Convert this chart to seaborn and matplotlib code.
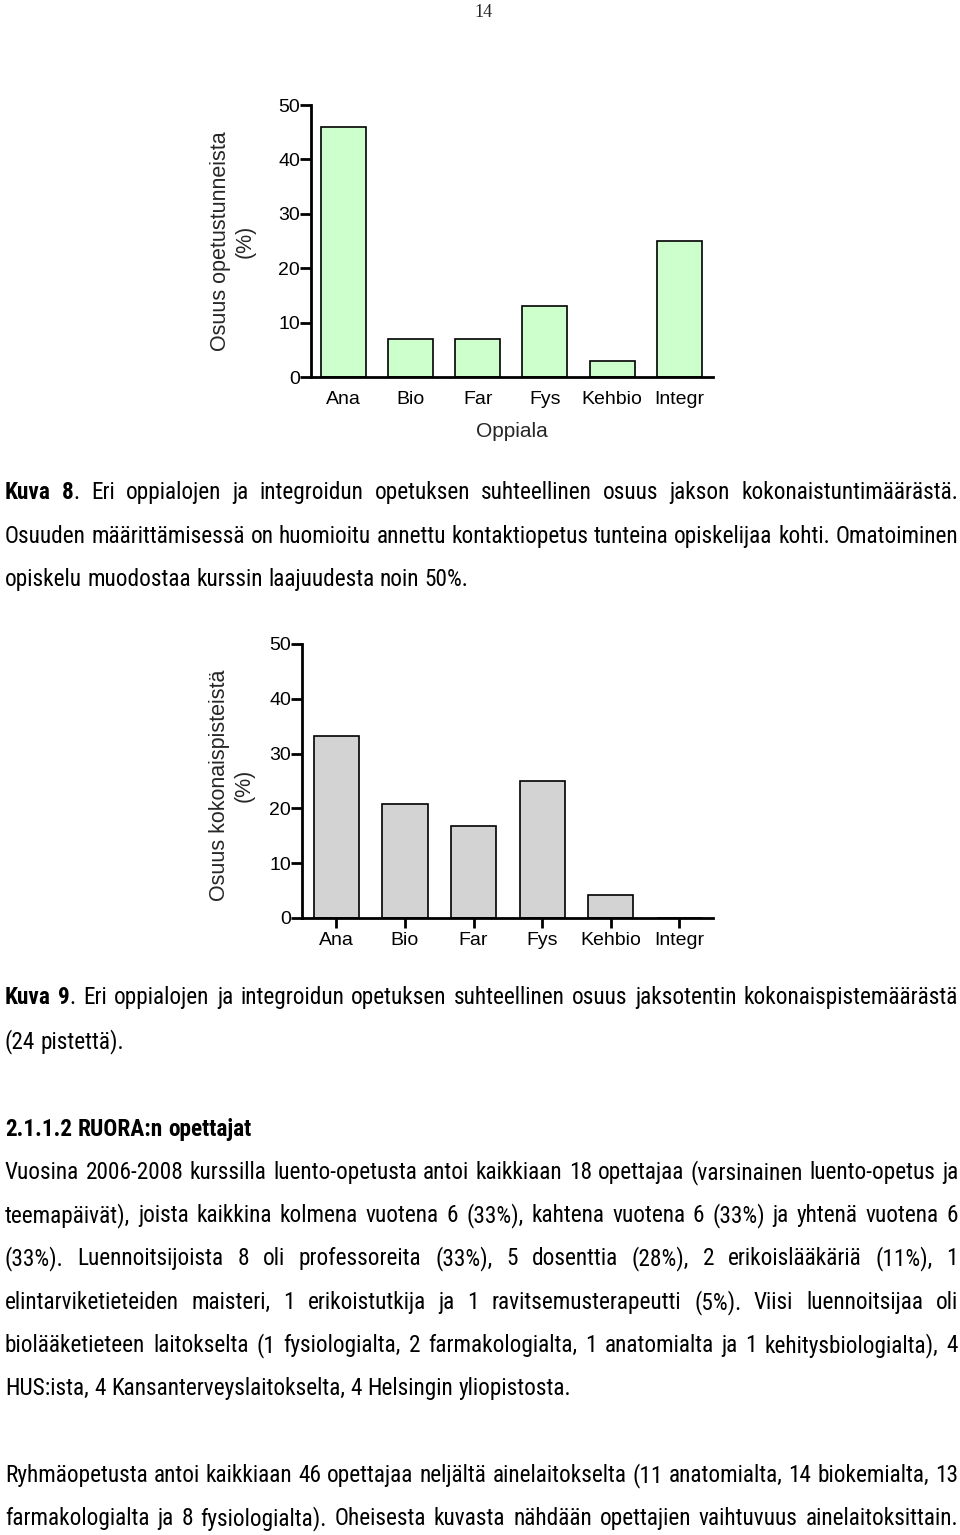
import re
import os
import matplotlib
matplotlib.use("Agg")
import matplotlib.pyplot as plt
import seaborn as sns
import pandas as pd
from matplotlib import font_manager
from matplotlib.font_manager import FontProperties

# ---------------- data ----------------
categories = ["Ana", "Bio", "Far", "Fys", "Kehbio", "Integr"]
hours_share = [46, 7, 7, 13, 3, 25]          # Kuva 8
points_share = [33.3, 20.8, 16.7, 25, 4.2, 0]  # Kuva 9
y_ticks = [0, 10, 20, 30, 40, 50]

W, H = 960, 1535
sns.set_theme(style="ticks")

CHART_FONT = ["Liberation Sans", "DejaVu Sans"]
plt.rcParams["font.family"] = CHART_FONT


# ---------- find a narrow / condensed body font (Arial Narrow look) ----------
def _wnum(w):
    if isinstance(w, (int, float)):
        return int(w)
    return font_manager.weight_dict.get(str(w).lower(), 400)


PREFS = ["liberationsansnarrow", "arialnarrow", "arial narrow", "liberation sans narrow",
         "robotocondensed", "roboto condensed", "dejavusanscondensed",
         "notosans-condensed", "notosanscondensed", "opensans-condensed", "opensans_condensed",
         "opensanscondensed", "notosans-semicondensed", "lato"]


def find_body_font(bold):
    best = None
    for f in font_manager.fontManager.ttflist:
        key = (os.path.basename(f.fname) + " " + f.name).lower().replace(" ", "")
        if f.style != "normal":
            continue
        wn = _wnum(f.weight)
        if bold and not (650 <= wn <= 750):
            continue
        if not bold and not (350 <= wn <= 450):
            continue
        if "extracondensed" in key or "italic" in key or "oblique" in key:
            continue
        for rank, p in enumerate(PREFS):
            p2 = p.replace(" ", "")
            if p2 in key:
                if p2 == "notosans-condensed" and "semicondensed" in key:
                    continue
                if p2 == "lato":
                    continue
                if best is None or rank < best[0]:
                    best = (rank, f.fname)
                break
    return best[1] if best else None


reg_path = find_body_font(False)
bold_path = find_body_font(True)

fig = plt.figure(figsize=(W / 100, H / 100), dpi=100)
fig.patch.set_facecolor("white")
renderer = fig.canvas.get_renderer()


def body_fp(weight, size):
    path = bold_path if weight == "bold" else reg_path
    if path:
        return FontProperties(fname=path, size=size)
    return FontProperties(family=["Liberation Sans", "DejaVu Sans"], weight=weight, size=size)


def axes_px(left, right, top, bottom):
    return fig.add_axes([left / W, 1 - bottom / H, (right - left) / W, (bottom - top) / H])


def style_axes(ax, xticks_visible):
    for s in ["top", "right"]:
        ax.spines[s].set_visible(False)
    for s in ["left", "bottom"]:
        ax.spines[s].set_linewidth(2.0)
        ax.spines[s].set_color("black")
    ax.set_ylim(0, 50)
    ax.set_yticks(y_ticks)
    ax.tick_params(axis="y", length=8, width=2.0, pad=0, labelsize=14, colors="black")
    if xticks_visible:
        ax.tick_params(axis="x", length=7, width=2.0, pad=3, labelsize=14, colors="black")
    else:
        ax.tick_params(axis="x", length=0, pad=10, labelsize=14, colors="black")
    ax.set_facecolor("white")
    ax.grid(False)


# ---------------- Chart 1 ----------------
ax1 = axes_px(311, 713, 105, 377)
df1 = pd.DataFrame({"Oppiala": categories, "Osuus": hours_share})
sns.barplot(data=df1, x="Oppiala", y="Osuus", ax=ax1, color="#ccffcc",
            saturation=1, width=0.67, edgecolor="black", linewidth=1.2)
style_axes(ax1, False)
ax1.set_xlim(-0.48, 5.5)
ax1.set_xlabel("Oppiala", fontsize=15, labelpad=10)
ax1.set_ylabel("Osuus opetustunneista\n(%)", fontsize=15.5, linespacing=1.25)
ax1.yaxis.set_label_coords((256 - 311) / 402, 0.5)

# ---------------- Chart 2 ----------------
ax2 = axes_px(302, 713, 644, 918)
df2 = pd.DataFrame({"Oppiala": categories, "Osuus": points_share})
sns.barplot(data=df2, x="Oppiala", y="Osuus", ax=ax2, color="#d3d3d3",
            saturation=1, width=0.66, edgecolor="black", linewidth=1.2)
style_axes(ax2, True)
ax2.set_xlim(-0.50, 5.49)
ax2.set_xlabel("")
ax2.set_ylabel("Osuus kokonaispisteistä\n(%)", fontsize=15.5, linespacing=1.25)
ax2.yaxis.set_label_coords((255 - 302) / 411, (918 - 785) / 274)

# ---------------- page text ----------------
fig.text(483 / W, 1 - 17 / H, "14", ha="center", va="baseline",
         fontsize=13, family=["Liberation Serif", "DejaVu Serif"])

LEFT, RIGHT = 5, 958


def text_width(s, weight, size):
    t = fig.text(0, 0, s, fontproperties=body_fp(weight, size))
    w = t.get_window_extent(renderer).width
    t.remove()
    return w


# calibrate size so that a free (unjustified) line has the reference width
_ref_line = "HUS:ista, 4 Kansanterveyslaitokselta, 4 Helsingin yliopistosta."
_w16 = text_width(_ref_line, "normal", 16)
BODY_SIZE = 16 * 567 / _w16
BODY_SIZE = max(12.5, min(17.5, (BODY_SIZE + 16) / 2 if reg_path is None else BODY_SIZE))

space_w = text_width("a a", "normal", BODY_SIZE) - text_width("aa", "normal", BODY_SIZE)


def parse_word(word):
    segs = []
    for m in re.finditer(r"\{([^}]*)\}|([^{}]+)", word):
        if m.group(1) is not None:
            segs.append((m.group(1), "bold"))
        else:
            segs.append((m.group(2), "normal"))
    return segs


def draw_line(line, baseline, justify):
    words = [parse_word(w) for w in line.split(" ")]
    widths = [[text_width(s, wt, BODY_SIZE) for s, wt in segs] for segs in words]
    total = sum(sum(ws) for ws in widths)
    gaps = len(words) - 1
    if justify and gaps > 0:
        gap = max((RIGHT - LEFT - total) / gaps, space_w * 0.6)
    else:
        gap = space_w
    x = LEFT
    for segs, ws in zip(words, widths):
        for (s, wt), w in zip(segs, ws):
            fig.text(x / W, 1 - baseline / H, s, fontproperties=body_fp(wt, BODY_SIZE),
                     ha="left", va="baseline", color="black")
            x += w
        x += gap


paragraphs = [
    ([
        "{Kuva} {8}. Eri oppialojen ja integroidun opetuksen suhteellinen osuus jakson kokonaistuntimäärästä.",
        "Osuuden määrittämisessä on huomioitu annettu kontaktiopetus tunteina opiskelijaa kohti. Omatoiminen",
        "opiskelu muodostaa kurssin laajuudesta noin 50%.",
    ], [499, 543, 586]),
    ([
        "{Kuva} {9}. Eri oppialojen ja integroidun opetuksen suhteellinen osuus jaksotentin kokonaispistemäärästä",
        "(24 pistettä).",
    ], [1004, 1048]),
    ([
        "{2.1.1.2} {RUORA:n} {opettajat}",
    ], [1136]),
    ([
        "Vuosina 2006-2008 kurssilla luento-opetusta antoi kaikkiaan 18 opettajaa (varsinainen luento-opetus ja",
        "teemapäivät), joista kaikkina kolmena vuotena 6 (33%), kahtena vuotena 6 (33%) ja yhtenä vuotena 6",
        "(33%). Luennoitsijoista 8 oli professoreita (33%), 5 dosenttia (28%), 2 erikoislääkäriä (11%), 1",
        "elintarviketieteiden maisteri, 1 erikoistutkija ja 1 ravitsemusterapeutti (5%). Viisi luennoitsijaa oli",
        "biolääketieteen laitokselta (1 fysiologialta, 2 farmakologialta, 1 anatomialta ja 1 kehitysbiologialta), 4",
        "HUS:ista, 4 Kansanterveyslaitokselta, 4 Helsingin yliopistosta.",
    ], [1179, 1222, 1265, 1309, 1352, 1395]),
    ([
        "Ryhmäopetusta antoi kaikkiaan 46 opettajaa neljältä ainelaitokselta (11 anatomialta, 14 biokemialta, 13",
        "farmakologialta ja 8 fysiologialta). Oheisesta kuvasta nähdään opettajien vaihtuvuus ainelaitoksittain.",
    ], [1482, 1525]),
]

for lines, baselines in paragraphs:
    n = len(lines)
    for i, (ln, b) in enumerate(zip(lines, baselines)):
        justify = (i != n - 1) or ln.startswith("farmakologialta")
        draw_line(ln, b, justify)

fig.savefig("out.png", dpi=100, facecolor="white")
